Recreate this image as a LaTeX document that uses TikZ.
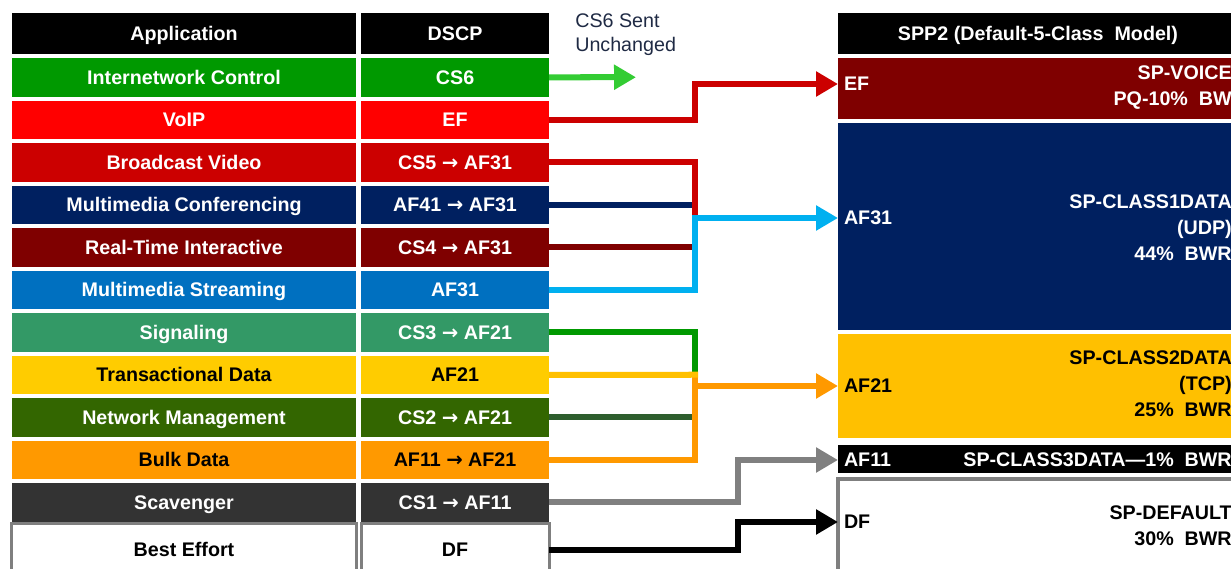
\documentclass[tikz,border=0pt]{standalone}
\usepackage{fontspec}
\setsansfont{Liberation Sans}
\newfontfamily\arrowfont{DejaVu Sans}
\usetikzlibrary{arrows.meta, positioning}
\definecolor{icgreen}{HTML}{009900}
\definecolor{voipred}{HTML}{FF0000}
\definecolor{bvred}{HTML}{CC0000}
\definecolor{mcnavy}{HTML}{002060}
\definecolor{rtmaroon}{HTML}{7F0000}
\definecolor{msblue}{HTML}{0070C0}
\definecolor{sggreen}{HTML}{339966}
\definecolor{tdyellow}{HTML}{FFCC00}
\definecolor{nmgreen}{HTML}{336600}
\definecolor{bkorange}{HTML}{FF9900}
\definecolor{scdark}{HTML}{333333}
\definecolor{begray}{HTML}{7F7F7F}
\definecolor{af21gold}{HTML}{FFC000}
\definecolor{cs6green}{HTML}{33CC33}
\definecolor{skyline}{HTML}{00B0F0}
\definecolor{nmline}{HTML}{2E5E2E}
\definecolor{scline}{HTML}{808080}
\definecolor{textdark}{HTML}{1F2A44}
\newcommand{\remap}{\ {\arrowfont\bfseries →}\ }

\begin{document}
\begin{tikzpicture}[
  x=0.025cm, y=-0.025cm,
  font=\sffamily\bfseries\fontsize{14}{17}\selectfont,
  cell/.style={
    rectangle, minimum height=0.9625cm,
    text height=0.45cm, text depth=0.1cm,
    inner sep=0pt, outer sep=0pt, text=white
  },
  appbox/.style={cell, minimum width=8.6cm},
  dscpbox/.style={cell, minimum width=4.7cm},
  headbox/.style={minimum height=1.025cm, fill=black, text=white},
  classbox/.style={
    rectangle, minimum width=10cm,
    inner sep=0pt, outer sep=0pt
  },
  classlabel/.style={
    anchor=west, inner sep=0.15cm, outer sep=0pt, text=white,
    text height=0.45cm, text depth=0.1cm
  },
  classtext/.style={
    anchor=east, align=right, inner sep=0pt, text=white,
    font=\sffamily\bfseries\fontsize{14}{18.5}\selectfont
  },
  feeder/.style={line width=0.15cm},
  connector/.style={feeder, -{Triangle[length=0.55cm, width=0.6cm]}}
]

\clip (0,0) rectangle (1231,569);

% ── Header row ────────────────────────────────────────────────────────────
\node[appbox, headbox] (app-h) at (184,33.5) {Application};
\node[dscpbox, headbox, right=0.125cm of app-h] (dscp-h) {DSCP};
\node[classbox, headbox, text height=0.45cm, text depth=0.1cm] (spp-h) at (1038,33.5)
  {SPP2 (Default-5-Class\ \ Model)};

% ── Application / DSCP rows ───────────────────────────────────────────────
\node[appbox, fill=icgreen, below=0.1cm of app-h] (ic-a) {Internetwork Control};
\node[dscpbox, fill=icgreen, right=0.125cm of ic-a] (ic-d) {CS6};

\node[appbox, fill=voipred, below=0.1cm of ic-a] (vo-a) {VoIP};
\node[dscpbox, fill=voipred, right=0.125cm of vo-a] (vo-d) {EF};

\node[appbox, fill=bvred, below=0.1cm of vo-a] (bv-a) {Broadcast Video};
\node[dscpbox, fill=bvred, right=0.125cm of bv-a] (bv-d) {CS5\remap AF31};

\node[appbox, fill=mcnavy, below=0.1cm of bv-a] (mc-a) {Multimedia Conferencing};
\node[dscpbox, fill=mcnavy, right=0.125cm of mc-a] (mc-d) {AF41\remap AF31};

\node[appbox, fill=rtmaroon, below=0.1cm of mc-a] (rt-a) {Real-Time Interactive};
\node[dscpbox, fill=rtmaroon, right=0.125cm of rt-a] (rt-d) {CS4\remap AF31};

\node[appbox, fill=msblue, below=0.1cm of rt-a] (ms-a) {Multimedia Streaming};
\node[dscpbox, fill=msblue, right=0.125cm of ms-a] (ms-d) {AF31};

\node[appbox, fill=sggreen, below=0.1cm of ms-a] (sg-a) {Signaling};
\node[dscpbox, fill=sggreen, right=0.125cm of sg-a] (sg-d) {CS3\remap AF21};

\node[appbox, fill=tdyellow, text=black, below=0.1cm of sg-a] (td-a) {Transactional Data};
\node[dscpbox, fill=tdyellow, text=black, right=0.125cm of td-a] (td-d) {AF21};

\node[appbox, fill=nmgreen, below=0.1cm of td-a] (nm-a) {Network Management};
\node[dscpbox, fill=nmgreen, right=0.125cm of nm-a] (nm-d) {CS2\remap AF21};

\node[appbox, fill=bkorange, text=black, below=0.1cm of nm-a] (bk-a) {Bulk Data};
\node[dscpbox, fill=bkorange, text=black, right=0.125cm of bk-a] (bk-d) {AF11\remap AF21};

\node[appbox, fill=scdark, below=0.1cm of bk-a] (sc-a) {Scavenger};
\node[dscpbox, fill=scdark, right=0.125cm of sc-a] (sc-d) {CS1\remap AF11};

\node[appbox, minimum height=1.3cm, fill=white, text=black,
      draw=begray, line width=0.075cm, below=0.05cm of sc-a] (be-a) {Best Effort};
\node[dscpbox, minimum height=1.3cm, fill=white, text=black,
      draw=begray, line width=0.075cm, right=0.125cm of be-a] (be-d) {DF};

% ── SPP2 classes ──────────────────────────────────────────────────────────
\node[classbox, fill=rtmaroon, minimum height=1.525cm, below=0.1cm of spp-h] (ef-box) {};
\node[classbox, fill=mcnavy, minimum height=5.175cm, below=0.1cm of ef-box] (af31-box) {};
\node[classbox, fill=af21gold, minimum height=2.6cm, below=0.1cm of af31-box] (af21-box) {};
\node[classbox, fill=black, minimum height=0.6875cm, below=0.175cm of af21-box] (af11-box) {};
\node[classbox, fill=white, draw=begray, line width=0.1cm,
      minimum height=2.5cm, below=0.15cm of af11-box] (df-box) {};

\node[classlabel] (ef-l) at (838,84) {EF};
\node[classlabel] (af31-l) at (838,218) {AF31};
\node[classlabel, text=black] (af21-l) at (838,386) {AF21};
\node[classlabel] (af11-l) at (838,460) {AF11};
\node[classlabel, text=black] (df-l) at (838,522) {DF};

\node[classtext] (ef-t) at (1232,88) {SP-VOICE\\PQ-10\%\ \ BW};
\node[classtext] (af31-t) at (1232,227.5) {SP-CLASS1DATA\\(UDP)\\44\%\ \ BWR};
\node[classtext, text=black] (af21-t) at (1232,384) {SP-CLASS2DATA\\(TCP)\\25\%\ \ BWR};
\node[classtext] (af11-t) at (1232,460) {SP-CLASS3DATA—1\%\ \ BWR};
\node[classtext, text=black] (df-t) at (1232,526) {SP-DEFAULT\\30\%\ \ BWR};

% ── Bend points ───────────────────────────────────────────────────────────
\coordinate (cs6-end) at (636,77.25);
\coordinate (xa) at (695,0);
\coordinate (xb) at (738,0);
\coordinate (j31) at (695,218);
\coordinate (j21) at (695,374.75);

\node[font=\sffamily\fontsize{14}{17}\selectfont, text=textdark,
      align=left, anchor=west, inner sep=0pt] (cs6-note) at (575,34.5)
  {CS6 Sent\\Unchanged};

% ── Connectors ────────────────────────────────────────────────────────────
\draw[connector, color=cs6green] (ic-d.east) -- (cs6-end);

\draw[connector, color=bvred] (vo-d.east) -- (vo-d.east -| xa) |- (ef-l.west);

\draw[feeder, color=mcnavy] (mc-d.east) -- (mc-d.east -| j31);
\draw[feeder, color=rtmaroon] (rt-d.east) -- (rt-d.east -| j31);
\draw[feeder, color=bvred] (bv-d.east) -| (j31);
\draw[connector, color=skyline] (ms-d.east) -| (j31) -- (af31-l.west);

\draw[feeder, color=nmline] (nm-d.east) -- (nm-d.east -| j21);
\draw[feeder, color=icgreen] (sg-d.east) -| (j21);
\draw[feeder, color=bkorange] (bk-d.east) -| (j21);
\draw[connector, color=bkorange] (j21 |- af21-l.west) -- (af21-l.west);
\draw[feeder, color=af21gold, shorten >=-0.075cm] (td-d.east) -- (j21);

\draw[connector, color=scline] (sc-d.east) -- (sc-d.east -| xb) |- (af11-l.west);
\draw[connector, color=black] (be-d.east) -- (be-d.east -| xb) |- (df-l.west);

\end{tikzpicture}
\end{document}
